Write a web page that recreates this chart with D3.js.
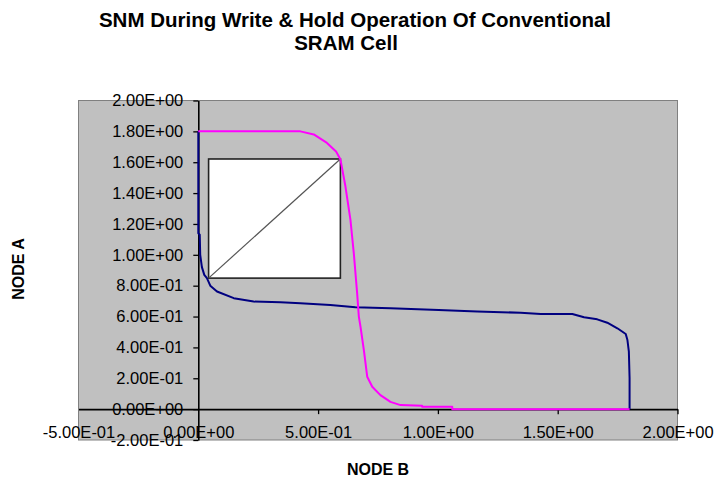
<!DOCTYPE html>
<html>
<head>
<meta charset="utf-8">
<script src="https://cdn.jsdelivr.net/npm/d3@7"></script>
<style>
  html, body { margin: 0; padding: 0; background: #ffffff; }
  svg { display: block; }
  text { font-family: "Liberation Sans", Arial, sans-serif; fill: #000; }
</style>
</head>
<body>
<svg id="chart" width="715" height="481"></svg>
<script>
// ---- data ----
const titleLines = ["SNM During Write & Hold Operation Of Conventional", "SRAM Cell"];
const xLabel = "NODE B";
const yLabel = "NODE A";
const xTicks = [-0.5, 0, 0.5, 1.0, 1.5, 2.0];
const yTicks = [-0.2, 0, 0.2, 0.4, 0.6, 0.8, 1.0, 1.2, 1.4, 1.6, 1.8, 2.0];
const xDomain = [-0.5, 2.0];
const yDomain = [-0.2, 2.0];

// Blue curve (NODE A vs NODE B)
const blueX = [0, 0, 0.006, 0.008, 0.015, 0.025, 0.036, 0.05, 0.078, 0.148, 0.231, 0.343, 0.426, 0.551, 0.656, 0.802, 1.003, 1.164, 1.345, 1.429, 1.561, 1.61, 1.665, 1.707, 1.749, 1.784, 1.791, 1.797, 1.80, 1.80];
const blueY = [1.80, 1.14, 1.13, 1.00, 0.92, 0.87, 0.849, 0.80, 0.762, 0.719, 0.697, 0.692, 0.686, 0.675, 0.660, 0.654, 0.643, 0.632, 0.625, 0.617, 0.617, 0.595, 0.582, 0.560, 0.524, 0.487, 0.448, 0.372, 0.20, 0];

// Magenta curve
const magX = [0, 0.426, 0.482, 0.537, 0.575, 0.593, 0.614, 0.635, 0.649, 0.663, 0.670, 0.677, 0.691, 0.705, 0.726, 0.760, 0.802, 0.844, 0.934, 0.934, 1.06, 1.06, 1.80];
const magY = [1.80, 1.80, 1.78, 1.725, 1.67, 1.62, 1.444, 1.227, 1.011, 0.75, 0.60, 0.534, 0.383, 0.21, 0.145, 0.091, 0.047, 0.026, 0.022, 0.015, 0.015, 0, 0];

// SNM square (x0, y0, x1, y1)
const snmBox = [0.043, 0.849, 0.593, 1.621];

// ---- drawing ----
const svg = d3.select("#chart");
const plot = {left: 78.5, right: 677.5, top: 100.5, bottom: 440};

const x = d3.scaleLinear().domain(xDomain).range([plot.left, plot.right]);
const y = d3.scaleLinear().domain(yDomain).range([plot.bottom, plot.top]);

const fmt = v => {
  const s = (Math.abs(v) < 1e-12 ? 0 : v).toExponential(2);
  return s.replace(/e([+-])(\d+)/, (m, sg, d) => "E" + sg + d.padStart(2, "0"));
};

// plot area
svg.append("rect")
  .attr("x", plot.left).attr("y", plot.top)
  .attr("width", plot.right - plot.left).attr("height", plot.bottom - plot.top)
  .attr("fill", "#c0c0c0").attr("stroke", "#808080").attr("stroke-width", 1);

// axes
const yAxis = d3.axisLeft(y).tickValues(yTicks).tickFormat(fmt).tickSizeInner(5).tickSizeOuter(0).tickPadding(10);
const xAxis = d3.axisBottom(x).tickValues(xTicks).tickFormat(fmt).tickSizeInner(5).tickSizeOuter(0).tickPadding(12);

const gy = svg.append("g").attr("transform", `translate(${x(0)},0)`).call(yAxis);
const gx = svg.append("g").attr("transform", `translate(0,${y(0)})`).call(xAxis);

[gx, gy].forEach(g => {
  g.select(".domain").attr("stroke", "#000").attr("stroke-width", 1.6);
  g.selectAll(".tick line").attr("stroke", "#000").attr("stroke-width", 1.3);
  g.selectAll(".tick text").attr("font-size", "16.5px").attr("fill", "#000")
    .style("font-family", '"Liberation Sans", Arial, sans-serif');
});
gx.selectAll(".tick").filter(d => d === 0 || d === -0.5).select("line").remove();

// curves
const line = d3.line().x(d => x(d[0])).y(d => y(d[1]));
const blue = blueX.map((v, i) => [v, blueY[i]]);
const mag = magX.map((v, i) => [v, magY[i]]);

svg.append("path").datum(blue).attr("d", line)
  .attr("fill", "none").attr("stroke", "#000080").attr("stroke-width", 2).attr("stroke-linejoin", "round");

// SNM box
svg.append("rect")
  .attr("x", x(snmBox[0])).attr("y", y(snmBox[3]))
  .attr("width", x(snmBox[2]) - x(snmBox[0])).attr("height", y(snmBox[1]) - y(snmBox[3]))
  .attr("fill", "#ffffff").attr("stroke", "#222").attr("stroke-width", 1.6);
svg.append("line")
  .attr("x1", x(snmBox[0])).attr("y1", y(snmBox[1]))
  .attr("x2", x(snmBox[2])).attr("y2", y(snmBox[3]))
  .attr("stroke", "#555").attr("stroke-width", 1.2);

svg.append("path").datum(mag).attr("d", line)
  .attr("fill", "none").attr("stroke", "#ff00ff").attr("stroke-width", 2).attr("stroke-linejoin", "round");

// title
const title = svg.append("text").attr("text-anchor", "middle")
  .attr("font-size", "20.5px").attr("font-weight", "bold");
title.append("tspan").attr("x", 355).attr("y", 27).text(titleLines[0]);
title.append("tspan").attr("x", 346).attr("y", 50).text(titleLines[1]);

// axis titles
svg.append("text").attr("x", 378).attr("y", 475).attr("text-anchor", "middle")
  .attr("font-size", "16px").attr("font-weight", "bold").text(xLabel);
svg.append("text").attr("transform", "translate(24,269) rotate(-90)").attr("text-anchor", "middle")
  .attr("font-size", "16px").attr("font-weight", "bold").text(yLabel);
</script>
</body>
</html>
